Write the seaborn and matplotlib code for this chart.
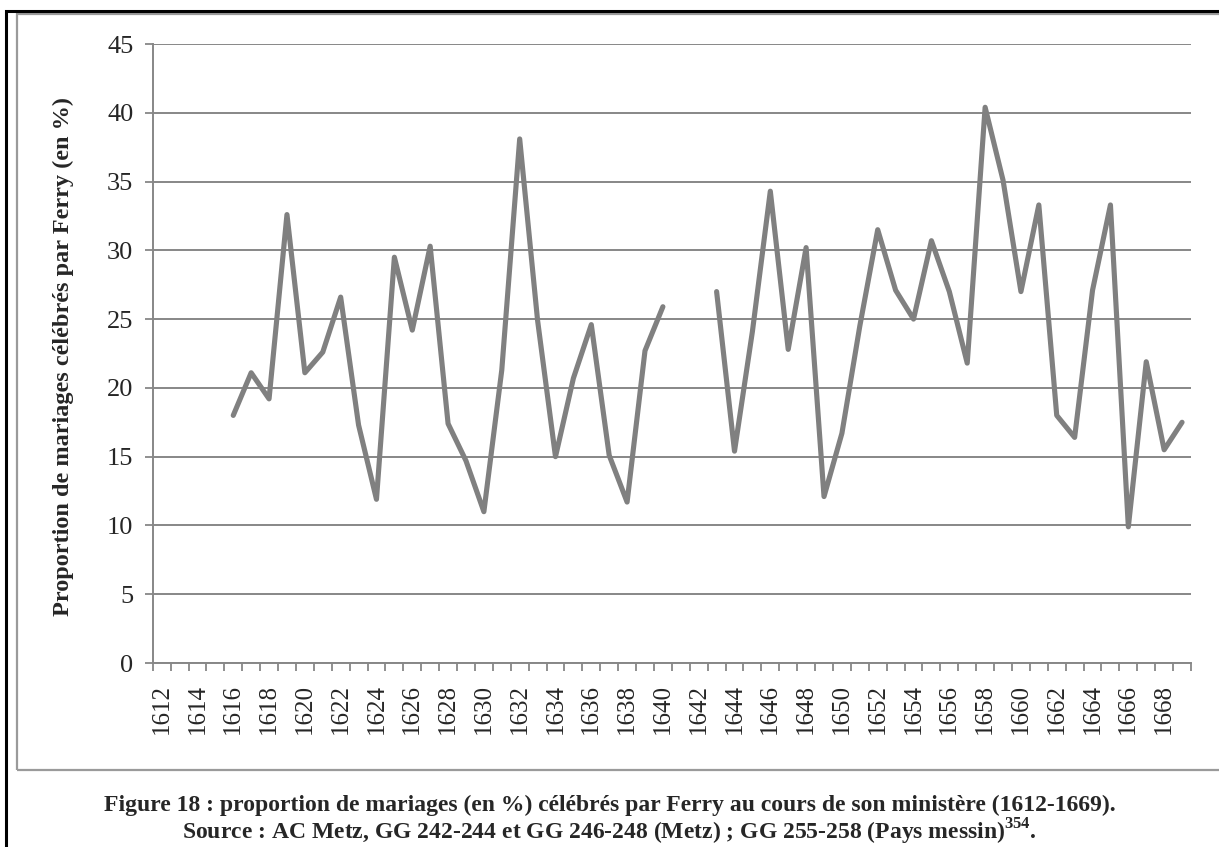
import matplotlib
matplotlib.use("Agg")
import matplotlib.pyplot as plt
import matplotlib.patches as patches
import numpy as np
import pandas as pd
import seaborn as sns

# years with data (none recorded 1612-1615 and 1641-1642)
years_a = list(range(1616, 1641))
pct_a = [18.0, 21.1, 19.2, 32.6, 21.1, 22.6, 26.6, 17.3, 11.9, 29.5,
         24.2, 30.3, 17.4, 14.7, 11.0, 21.3, 38.1, 24.9, 15.0, 20.7,
         24.6, 15.1, 11.7, 22.7, 25.9]
years_b = list(range(1643, 1670))
pct_b = [27.0, 15.4, 24.1, 34.3, 22.8, 30.2, 12.1, 16.7, 24.5, 31.5,
         27.1, 25.0, 30.7, 27.0, 21.8, 40.4, 35.1, 27.0, 33.3, 18.0,
         16.4, 27.1, 33.3, 9.9, 21.9, 15.5, 17.5]
first_year, last_year = 1612, 1669
y_ticks = [0, 5, 10, 15, 20, 25, 30, 35, 40, 45]

df = pd.concat([
    pd.DataFrame({"year": years_a, "pct": pct_a, "segment": "a"}),
    pd.DataFrame({"year": years_b, "pct": pct_b, "segment": "b"}),
])

sns.set_style("white")
plt.rcParams["font.family"] = ["Liberation Serif", "DejaVu Serif"]
plt.rcParams["mathtext.fontset"] = "custom"
plt.rcParams["mathtext.bf"] = "Liberation Serif:bold"
plt.rcParams["mathtext.rm"] = "Liberation Serif:bold"

W, H = 1219, 847
fig = plt.figure(figsize=(W / 100, H / 100), dpi=100)
ax = fig.add_axes([152.7 / W, 1 - 663 / H, (1191 - 152.7) / W, (663 - 44) / H])

grey = "#878787"
sns.lineplot(data=df, x="year", y="pct", units="segment", estimator=None,
             color="#808080", linewidth=3.7, ax=ax, legend=False)
for ln in ax.lines:
    ln.set_solid_capstyle("round")
    ln.set_solid_joinstyle("round")

ax.set_xlim(first_year - 0.5, last_year + 0.5)
ax.set_ylim(0, 45)
ax.set_yticks(y_ticks)
ax.set_yticklabels([str(t) for t in y_ticks], fontsize=19)
ax.yaxis.grid(True, color=grey, linewidth=1.4)
ax.set_axisbelow(True)

ax.set_xticks(list(range(first_year, last_year + 1, 2)))
ax.set_xticklabels([str(y) for y in range(first_year, last_year + 1, 2)],
                   rotation=90, fontsize=18)
ax.set_xticks(np.arange(first_year - 0.5, last_year + 1, 1), minor=True)
ax.tick_params(axis="x", which="major", bottom=True, length=0, pad=15)
ax.tick_params(axis="x", which="minor", bottom=True, length=6, width=1.3,
               color=grey, direction="out")
ax.tick_params(axis="y", which="major", left=True, length=6, width=1.3,
               color=grey, direction="out", pad=8)

for side in ["top", "right"]:
    ax.spines[side].set_visible(False)
for side in ["left", "bottom"]:
    ax.spines[side].set_color(grey)
    ax.spines[side].set_linewidth(1.4)

ax.set_xlabel("")
ax.set_ylabel("")
fig.text(63 / W, 1 - 356 / H, "Proportion de mariages célébrés par Ferry (en %)",
         rotation=90, fontsize=17.5, fontweight="bold", ha="center", va="center")

# frames around chart and page
fig.patches.append(patches.Rectangle((17 / W, 1 - 770 / H), 1.2, (770 - 14) / H,
                                     transform=fig.transFigure, fill=False,
                                     edgecolor="#9a9a9a", linewidth=1.6))
fig.patches.append(patches.Rectangle((6 / W, -0.1), 1.2, 1.1 - 11 / H,
                                     transform=fig.transFigure, fill=False,
                                     edgecolor="black", linewidth=2.2))

fig.text(0.5, 1 - 805 / H,
         "Figure 18 : proportion de mariages (en %) célébrés par Ferry au cours de son ministère (1612-1669).",
         fontsize=17, fontweight="bold", ha="center", va="center")
fig.text(0.5, 1 - 832 / H,
         r"Source : AC Metz, GG 242-244 et GG 246-248 (Metz) ; GG 255-258 (Pays messin)$^{\mathbf{354}}$.",
         fontsize=17, fontweight="bold", ha="center", va="center")

fig.savefig("out.png", dpi=100)
